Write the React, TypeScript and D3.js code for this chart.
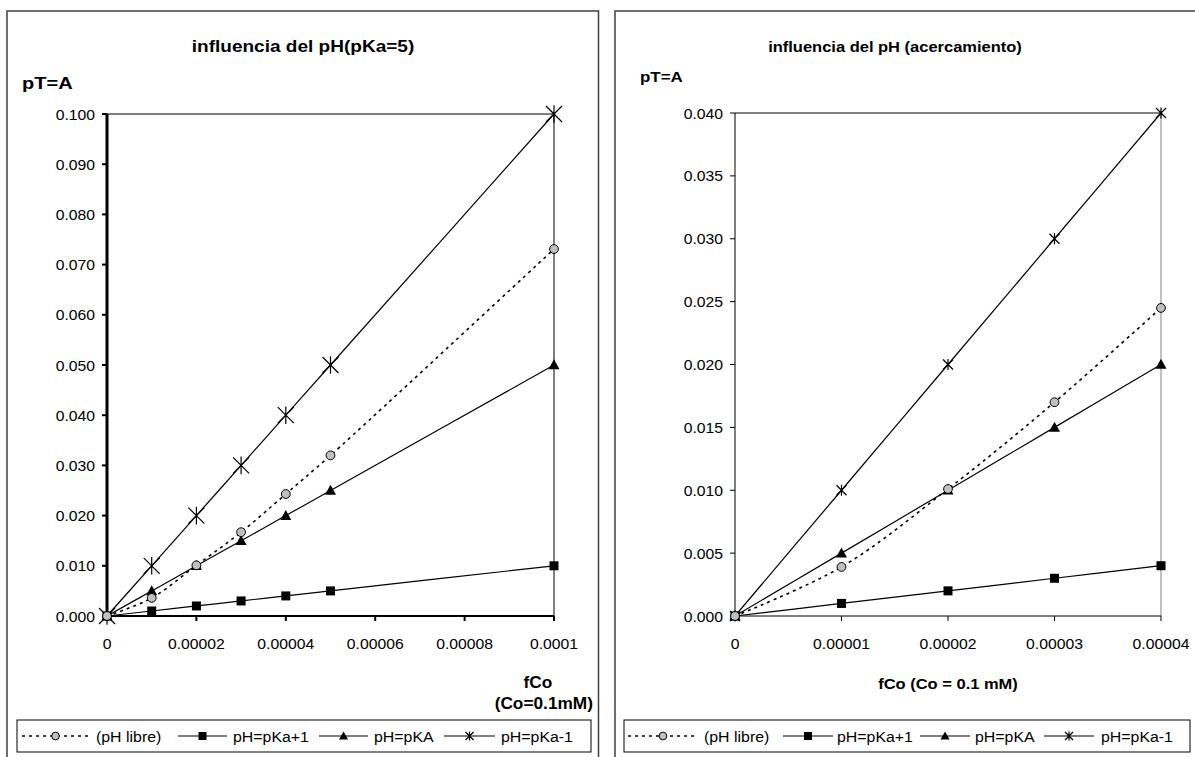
import React from "react";
import * as d3 from "d3";

// ---------- data ----------
const leftX = [0, 0.00001, 0.00002, 0.00003, 0.00004, 0.00005, 0.0001];
const leftLibre = [0, 0.0036, 0.0101, 0.0167, 0.0243, 0.032, 0.0731];
const leftPkaPlus1 = [0, 0.001, 0.002, 0.003, 0.004, 0.005, 0.01];
const leftPka = [0, 0.005, 0.01, 0.015, 0.02, 0.025, 0.05];
const leftPkaMinus1 = [0, 0.01, 0.02, 0.03, 0.04, 0.05, 0.1];

const rightX = [0, 0.00001, 0.00002, 0.00003, 0.00004];
const rightLibre = [0, 0.0039, 0.0101, 0.017, 0.0245];
const rightPkaPlus1 = [0, 0.001, 0.002, 0.003, 0.004];
const rightPka = [0, 0.005, 0.01, 0.015, 0.02];
const rightPkaMinus1 = [0, 0.01, 0.02, 0.03, 0.04];

const leftYTicks = [0, 0.01, 0.02, 0.03, 0.04, 0.05, 0.06, 0.07, 0.08, 0.09, 0.1];
const leftXTicks = [0, 0.00002, 0.00004, 0.00006, 0.00008, 0.0001];
const leftXTickLabels = ["0", "0.00002", "0.00004", "0.00006", "0.00008", "0.0001"];
const rightYTicks = [0, 0.005, 0.01, 0.015, 0.02, 0.025, 0.03, 0.035, 0.04];
const rightXTicks = [0, 0.00001, 0.00002, 0.00003, 0.00004];
const rightXTickLabels = ["0", "0.00001", "0.00002", "0.00003", "0.00004"];

const seriesNames = ["(pH libre)", "pH=pKa+1", "pH=pKA", "pH=pKa-1"];
const seriesMarkers = ["circle", "square", "triangle", "star"];

const FONT = "'Liberation Sans', Arial, Helvetica, sans-serif";

function T(props: any) {
  const { x, y, anchor = "start", size = 14, weight = "normal", sx = 1.05, children } = props;
  return (
    <text
      transform={`translate(${x},${y}) scale(${sx},1)`}
      textAnchor={anchor}
      fontSize={size}
      fontWeight={weight}
      fontFamily={FONT}
      fill="#000"
    >
      {children}
    </text>
  );
}

function Marker({ type, x, y, s }: any) {
  if (type === "circle") {
    return <circle cx={x} cy={y} r={s * 0.55} fill="#c0c0c0" stroke="#000" strokeWidth={1} />;
  }
  if (type === "square") {
    return <rect x={x - s / 2} y={y - s / 2} width={s} height={s} fill="#000" />;
  }
  if (type === "triangle") {
    const h = s * 0.95;
    return (
      <path
        d={`M${x},${y - h * 0.6}L${x + s / 2 + 0.5},${y + h * 0.45}L${x - s / 2 - 0.5},${y + h * 0.45}Z`}
        fill="#000"
      />
    );
  }
  const r = s / 2;
  return (
    <path
      d={`M${x - r},${y - r}L${x + r},${y + r}M${x - r},${y + r}L${x + r},${y - r}M${x},${y - r * 1.1}L${x},${y + r * 1.1}`}
      stroke="#000"
      strokeWidth={1.2}
      fill="none"
    />
  );
}

function Chart({ cfg }: any) {
  const xs = d3.scaleLinear().domain(cfg.xDomain).range([cfg.x0, cfg.x1]);
  const ys = d3.scaleLinear().domain(cfg.yDomain).range([cfg.yBot, cfg.yTop]);
  const line = d3
    .line<[number, number]>()
    .x((d) => xs(d[0]))
    .y((d) => ys(d[1]))
    .curve(d3.curveCatmullRom.alpha(0.5));
  const fmt = d3.format(".3f");
  const series = cfg.series;
  const thick = cfg.axisW > 1.5;

  return (
    <g>
      <rect x={cfg.frame[0]} y={cfg.frame[1]} width={cfg.frame[2]} height={cfg.frame[3]} fill="#fff" stroke="#404040" strokeWidth={1.5} />
      <T x={cfg.titleX} y={cfg.titleY} anchor="middle" size={cfg.titleSize} weight="bold" sx={cfg.titleSx}>{cfg.title}</T>
      <T x={cfg.yLabelX} y={cfg.yLabelY} size={cfg.yLabelSize} weight="bold" sx={cfg.yLabelSx}>pT=A</T>

      <line x1={cfg.x0} x2={cfg.x1} y1={cfg.yTop} y2={cfg.yTop} stroke="#000" strokeWidth={1} />
      <line x1={cfg.x1} x2={cfg.x1} y1={cfg.yTop} y2={cfg.yBot} stroke={cfg.rightBorder} strokeWidth={1} />

      {cfg.yTicks.map((t: number) => (
        <g key={"y" + t}>
          <line x1={cfg.x0 - 5} x2={cfg.x0} y1={ys(t)} y2={ys(t)} stroke="#000" strokeWidth={thick ? 2 : 1} />
          <T x={cfg.x0 - 12} y={ys(t) + 5.5} anchor="end" size={cfg.tickSize}>{fmt(t)}</T>
        </g>
      ))}
      {cfg.xTicks.map((t: number, i: number) => (
        <g key={"x" + t}>
          <line x1={xs(t)} x2={xs(t)} y1={cfg.yBot} y2={cfg.yBot + 5} stroke="#000" strokeWidth={thick ? 2 : 1} />
          <T x={xs(t)} y={cfg.yBot + 33} anchor="middle" size={cfg.tickSize}>{cfg.xTickLabels[i]}</T>
        </g>
      ))}
      <line x1={cfg.x0} x2={cfg.x1} y1={cfg.yBot} y2={cfg.yBot} stroke="#000" strokeWidth={thick ? 2 : 1} />
      <line x1={cfg.x0} x2={cfg.x0} y1={cfg.yTop} y2={cfg.yBot} stroke="#000" strokeWidth={cfg.axisW} />

      {series.map((vals: number[], si: number) => {
        const pts: [number, number][] = cfg.xVals.map((x: number, i: number) => [x, vals[i]]);
        return (
          <path
            key={"s" + si}
            d={line(pts) || ""}
            fill="none"
            stroke="#000"
            strokeWidth={si === 0 ? 1.6 : 1.2}
            strokeDasharray={si === 0 ? "3,4" : undefined}
          />
        );
      })}
      {series
        .map((vals: number[], si: number) => ({ vals, si }))
        .reverse()
        .map(({ vals, si }: any) =>
          cfg.xVals.map((x: number, i: number) => (
            <Marker key={`m${si}-${i}`} type={seriesMarkers[si]} x={xs(x)} y={ys(vals[i])} s={cfg.markerSizes[si]} />
          ))
        )}

      {cfg.xTitles.map((xt: any, i: number) => (
        <T key={"xt" + i} x={xt.x} y={xt.y} anchor={xt.anchor} size={cfg.xTitleSize} weight="bold" sx={cfg.xTitleSx}>{xt.text}</T>
      ))}

      <rect x={cfg.legend.x} y={cfg.legend.y} width={cfg.legend.w} height={cfg.legend.h} fill="#fff" stroke="#000" strokeWidth={1} />
      {seriesNames.map((name, si) => {
        const it = cfg.legend.items[si];
        const cy = cfg.legend.y + cfg.legend.h / 2;
        return (
          <g key={"l" + si}>
            <line x1={it.a} x2={it.b} y1={cy} y2={cy} stroke="#000" strokeWidth={si === 0 ? 1.6 : 1.2} strokeDasharray={si === 0 ? "3,4" : undefined} />
            <Marker type={seriesMarkers[si]} x={(it.a + it.b) / 2} y={cy} s={si === 3 ? 8 : si === 0 ? 7 : 8} />
            <T x={it.t} y={cy + 5.5} size={cfg.legendSize} sx={cfg.legendSx}>{name}</T>
          </g>
        );
      })}
    </g>
  );
}

const leftCfg = {
  frame: [7, 11, 591.5, 800],
  title: "influencia del pH(pKa=5)",
  titleX: 303,
  titleY: 52,
  titleSize: 17,
  titleSx: 1.12,
  yLabelX: 22,
  yLabelY: 89,
  yLabelSize: 17,
  yLabelSx: 1.18,
  x0: 107,
  x1: 554,
  yTop: 114,
  yBot: 616,
  xDomain: [0, 0.0001],
  yDomain: [0, 0.1],
  axisW: 3,
  rightBorder: "#000",
  yTicks: leftYTicks,
  xTicks: leftXTicks,
  xTickLabels: leftXTickLabels,
  tickSize: 15,
  xVals: leftX,
  series: [leftLibre, leftPkaPlus1, leftPka, leftPkaMinus1],
  markerSizes: [8, 9, 10, 16],
  xTitleSize: 16,
  xTitleSx: 1.08,
  xTitles: [
    { text: "fCo", x: 538, y: 688, anchor: "middle" },
    { text: "(Co=0.1mM)", x: 593, y: 709, anchor: "end" },
  ],
  legend: {
    x: 17, y: 720, w: 574, h: 32,
    items: [
      { a: 22, b: 89, t: 96 },
      { a: 178, b: 227, t: 233 },
      { a: 319, b: 368, t: 374 },
      { a: 444, b: 495, t: 501 },
    ],
  },
  legendSize: 15,
  legendSx: 1.06,
};

const rightCfg = {
  frame: [615, 11, 600, 800],
  title: "influencia del pH (acercamiento)",
  titleX: 895,
  titleY: 52,
  titleSize: 15,
  titleSx: 1.1,
  yLabelX: 640,
  yLabelY: 82,
  yLabelSize: 15,
  yLabelSx: 1.13,
  x0: 735,
  x1: 1161,
  yTop: 113,
  yBot: 616,
  xDomain: [0, 0.00004],
  yDomain: [0, 0.04],
  axisW: 1,
  rightBorder: "#808080",
  yTicks: rightYTicks,
  xTicks: rightXTicks,
  xTickLabels: rightXTickLabels,
  tickSize: 15,
  xVals: rightX,
  series: [rightLibre, rightPkaPlus1, rightPka, rightPkaMinus1],
  markerSizes: [8, 9, 10, 10],
  xTitleSize: 15,
  xTitleSx: 1.1,
  xTitles: [{ text: "fCo (Co = 0.1 mM)", x: 948, y: 689, anchor: "middle" }],
  legend: {
    x: 624, y: 720, w: 566, h: 32,
    items: [
      { a: 628, b: 698, t: 704 },
      { a: 783, b: 833, t: 837 },
      { a: 920, b: 970, t: 975 },
      { a: 1044, b: 1094, t: 1101 },
    ],
  },
  legendSize: 15,
  legendSx: 1.06,
};

export default function App() {
  return (
    <svg
      width={1195}
      height={757}
      style={{ position: "absolute", left: 0, top: 0, display: "block", background: "#fff" }}
    >
      <rect x={0} y={0} width={1195} height={757} fill="#fff" />
      <Chart cfg={leftCfg} />
      <Chart cfg={rightCfg} />
    </svg>
  );
}
